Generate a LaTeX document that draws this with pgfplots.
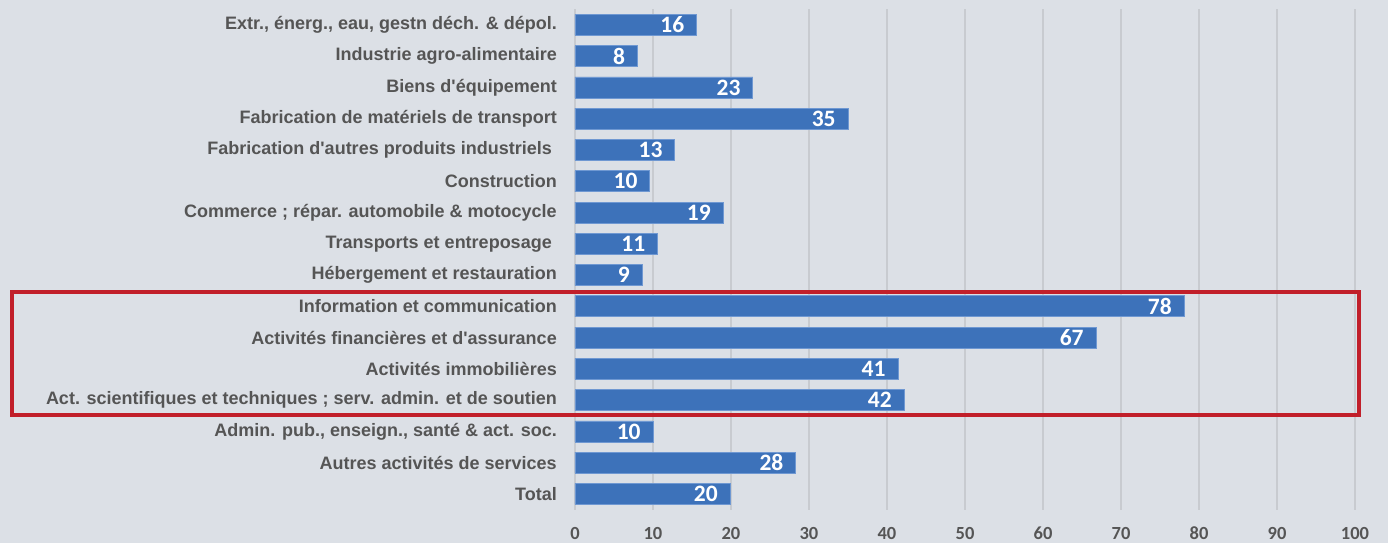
\documentclass[border=0pt]{standalone}
\usepackage{fontspec}
\setmainfont{Liberation Sans}
\newfontfamily\carlito{Carlito}
\usepackage{pgfplots}
\pgfplotsset{compat=1.18}
\definecolor{bgc}{HTML}{DCE0E6}
\definecolor{gridc}{HTML}{C8CBD0}
\definecolor{barc}{HTML}{3D72BA}
\definecolor{bard}{HTML}{6F98D2}
\definecolor{txtc}{HTML}{555555}
\definecolor{redc}{HTML}{C11F2A}
\begin{document}
\begin{tikzpicture}
\fill[bgc] (-575bp,-33.4bp) rectangle (813bp,509.6bp);
\useasboundingbox (-575bp,-33.4bp) rectangle (813bp,509.6bp);
\begin{axis}[
  at={(0,0)}, anchor=south west,
  scale only axis,
  x=7.8bp, y=31.27bp,
  xmin=0, xmax=100, ymin=-0.5, ymax=15.5,
  y dir=reverse,
  xbar, bar width=21bp,
  xtick={0,10,...,100},
  ytick={0,...,15},
  yticklabels={
    {Extr., énerg., eau, gestn déch. \& dépol.},
    {Industrie agro-alimentaire},
    {Biens d\textquotesingle équipement},
    {Fabrication de matériels de transport},
    {Fabrication d\textquotesingle autres produits industriels\kern5bp\null},
    {Construction},
    {Commerce ; répar. automobile \& motocycle},
    {Transports et entreposage\kern5bp\null},
    {Hébergement et restauration},
    {Information et communication},
    {Activités financières et d\textquotesingle assurance},
    {Activités immobilières},
    {Act. scientifiques et techniques ; serv. admin. et de soutien},
    {Admin. pub., enseign., santé \& act. soc.},
    {Autres activités de services},
    {Total}},
  yticklabel style={anchor=east, inner sep=0pt, xshift=-18bp, text=txtc,
    font=\bfseries\fontsize{18bp}{18bp}\selectfont},
  xticklabel style={anchor=center, inner sep=0pt, yshift=-24bp, text=txtc,
    font=\carlito\bfseries\fontsize{18.5bp}{18.5bp}\selectfont},
  /pgf/number format/assume math mode=true,
  major tick length=0pt,
  axis line style={draw=none},
  xmajorgrids,
  grid style={color=gridc, line width=1.2bp},
  clip=false,
  point meta=x,
  nodes near coords={\pgfmathprintnumber[fixed,precision=0]{\pgfplotspointmeta}},
  nodes near coords style={anchor=east, inner sep=0pt, xshift=-12bp, text=white,
    font=\carlito\bfseries\fontsize{23.5bp}{23.5bp}\selectfont},
]
\addplot[fill=barc, draw=bard, line width=0.8bp] coordinates {
  (15.6,0) (8.0,1) (22.8,2) (35.0,3) (12.8,4) (9.6,5) (19.0,6) (10.6,7)
  (8.6,8) (78.1,9) (66.8,10) (41.4,11) (42.2,12) (10.0,13) (28.3,14) (19.9,15)
};
\draw[redc, line width=4bp] (axis cs:-72.2,8.53) rectangle (axis cs:100.5,12.47);
\end{axis}
\end{tikzpicture}
\end{document}
